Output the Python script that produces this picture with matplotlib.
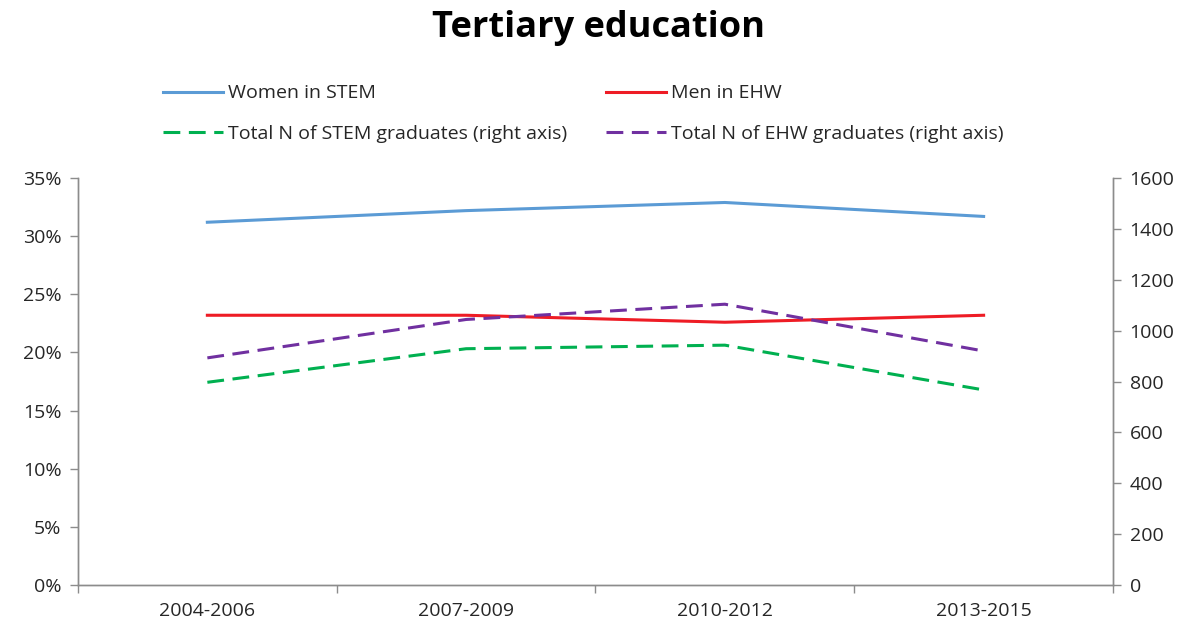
import numpy as np
import matplotlib.pyplot as plt
from matplotlib.ticker import PercentFormatter

plt.rcParams['font.family'] = ['Open Sans', 'DejaVu Sans']

periods = ['2004-2006', '2007-2009', '2010-2012', '2013-2015']
women_stem = [31.2, 32.2, 32.9, 31.7]      # %
men_ehw = [23.2, 23.2, 22.6, 23.2]         # %
total_stem = [797, 929, 943, 767]          # right axis
total_ehw = [893, 1044, 1104, 920]         # right axis

c_blue = '#5b9bd5'
c_red = '#ee1c25'
c_green = '#00b050'
c_purple = '#7030a0'
c_axis = '#8c8c8c'
c_text = '#262626'
fs = 14

fig = plt.figure(figsize=(11.96, 6.27), dpi=100)
ax = fig.add_axes([0.0652, 0.067, 0.8654, 0.649])
ax2 = ax.twinx()

x = np.arange(len(periods))
lw = 2.2
l1, = ax.plot(x, women_stem, color=c_blue, lw=lw, label='Women in STEM')
l2, = ax.plot(x, men_ehw, color=c_red, lw=lw, label='Men in EHW')
l3, = ax2.plot(x, total_stem, color=c_green, lw=lw, dashes=(5.5, 2.8),
               label='Total N of STEM graduates (right axis)')
l4, = ax2.plot(x, total_ehw, color=c_purple, lw=lw, dashes=(5.5, 2.8),
               label='Total N of EHW graduates (right axis)')

ax.set_xlim(-0.5, len(periods) - 0.5)
ax.set_ylim(0, 35)
ax.set_yticks(np.arange(0, 36, 5))
ax.yaxis.set_major_formatter(PercentFormatter(decimals=0))
ax2.set_ylim(0, 1600)
ax2.set_yticks(np.arange(0, 1601, 200))

# category labels centred, tick marks between categories
ax.set_xticks(x)
ax.set_xticklabels(periods)
ax.set_xticks(np.arange(-0.5, len(periods)), minor=True)
ax.tick_params(axis='x', which='major', length=0, pad=12, labelsize=fs, labelcolor=c_text)
ax.tick_params(axis='x', which='minor', length=6, width=1, color=c_axis, direction='out')
ax.tick_params(axis='y', length=6, width=1, color=c_axis, labelsize=fs, labelcolor=c_text, pad=6)
ax2.tick_params(axis='y', length=6, width=1, color=c_axis, labelsize=fs, labelcolor=c_text, pad=6)

for a in (ax, ax2):
    a.spines['top'].set_visible(False)
    for s in ('left', 'right', 'bottom'):
        a.spines[s].set_color(c_axis)
        a.spines[s].set_linewidth(1)

fig.text(0.5, 0.955, 'Tertiary education', ha='center', va='center',
         fontsize=26, fontweight='bold', color='black')

# row-wise order for a two-column legend
fig.legend(handles=[l1, l3, l2, l4], ncol=2, frameon=False,
           loc='upper left', bbox_to_anchor=(0.128, 0.881), borderpad=0,
           fontsize=fs, handlelength=3.1, handletextpad=0.25,
           columnspacing=2.0, labelspacing=1.15, labelcolor=c_text)

fig.savefig('out.png', dpi=100)
